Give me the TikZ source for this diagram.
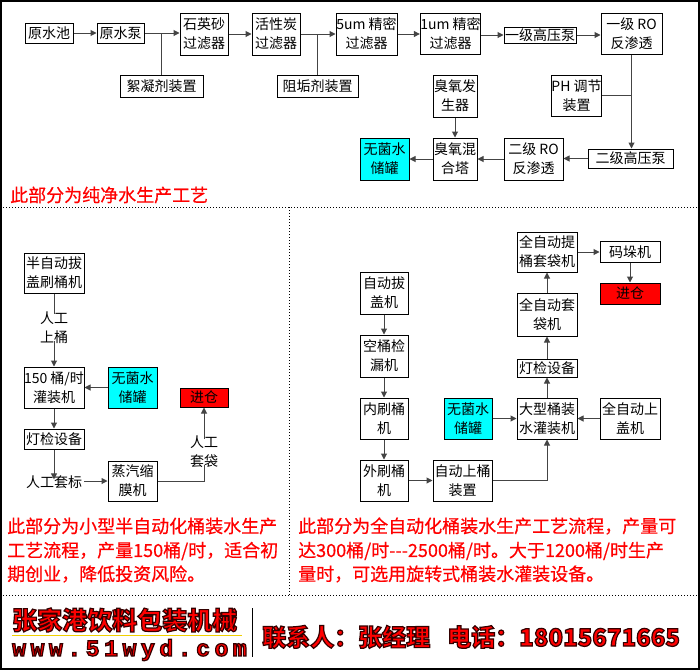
\documentclass[tikz,border=0pt]{standalone}
\usepackage{fontspec}
\setmainfont{Noto Sans CJK SC}
\newfontfamily\notefnt[FakeBold=0.5]{Noto Sans CJK SC}
\newfontfamily\webfnt[LetterSpace=20]{Liberation Mono}
\usetikzlibrary{arrows.meta}
\definecolor{gline}{HTML}{444444}
\definecolor{yline}{HTML}{F0D000}
\definecolor{aqua}{HTML}{00FFFF}
\definecolor{pure}{HTML}{FF0000}
\newcommand{\outlinedtext}[1]{\special{pdf:literal direct 2 Tr 0.2 0 0 RG 1.2 w}#1\special{pdf:literal direct 0 Tr}}
\tikzset{
  bx/.style={draw=black, line width=1pt, inner sep=0pt, align=center, fill=white,
    font=\fontsize{14}{19}\selectfont},
  cybx/.style={bx, fill=aqua},
  rdbx/.style={bx, fill=pure},
  lbl/.style={inner sep=0pt, align=center, font=\fontsize{14}{19}\selectfont},
  arr/.style={draw=gline, line width=1pt, -{Triangle[length=6pt,width=6pt]}},
  ln/.style={draw=gline, line width=1pt},
  note/.style={anchor=west, inner sep=0pt, text=pure, font=\notefnt\fontsize{18}{18}\selectfont},
  sep/.style={draw=black, line width=0.8pt, dash pattern=on 1pt off 2pt},
  foot/.style={anchor=west, inner sep=0pt, text=pure},
}
\begin{document}
\begin{tikzpicture}[x=1pt,y=-1pt]
\useasboundingbox (0,0) rectangle (700,670);
\fill[white] (0,0) rectangle (700,670);

% ---------- top section: pure water ----------
\node[bx, minimum width=48pt, minimum height=20pt] (ysc) at (49,33) {原水池};
\node[bx, minimum width=47pt, minimum height=20pt] (ysb) at (120.5,33) {原水泵};
\node[bx, minimum width=48pt, minimum height=42pt] (syf) at (204,34) {石英砂\\过滤器};
\node[bx, minimum width=48pt, minimum height=42pt] (hxt) at (276,34) {活性炭\\过滤器};
\node[bx, minimum width=61pt, minimum height=42pt] (w5) at (366.5,34) {5um 精密\\过滤器};
\node[bx, minimum width=59pt, minimum height=41pt] (w1) at (450.5,34) {1um 精密\\过滤器};
\node[bx, minimum width=72pt, minimum height=16pt] (gyb1) at (540,35) {一级高压泵};
\node[bx, minimum width=61pt, minimum height=41pt] (ro1) at (631.5,33.5) {一级 RO\\反渗透};
\node[bx, minimum width=83pt, minimum height=22pt] (xnj) at (161.5,86) {絮凝剂装置};
\node[bx, minimum width=81pt, minimum height=22pt] (zgj) at (317.5,86) {阻垢剂装置};
\node[bx, minimum width=44pt, minimum height=42pt] (cyf) at (455,96) {臭氧发\\生器};
\node[bx, minimum width=49pt, minimum height=41pt] (ph) at (576.5,95.5) {PH 调节\\装置};
\node[cybx, minimum width=49pt, minimum height=42pt] (wj1) at (384.5,159) {无菌水\\储罐};
\node[bx, minimum width=44pt, minimum height=42pt] (cyh) at (455,159) {臭氧混\\合塔};
\node[bx, minimum width=59pt, minimum height=42pt] (ro2) at (533.5,159) {二级 RO\\反渗透};
\node[bx, minimum width=85pt, minimum height=19pt] (gyb2) at (630.5,158.5) {二级高压泵};

\draw[arr] (ysc.east) -- (ysb.west);
\draw[arr] (ysb.east) -- (ysb.east -| syf.west);
\draw[ln] (xnj.north) -- (xnj.north |- ysb.east);
\draw[arr] (syf.east) -- (hxt.west);
\draw[arr] (hxt.east) -- (hxt.east -| w5.west);
\draw[ln] (zgj.north) -- (zgj.north |- hxt.east);
\draw[arr] (w5.east) -- (w5.east -| w1.west);
\draw[arr] (w1.east |- gyb1.west) -- (gyb1.west);
\draw[arr] (gyb1.east) -- (gyb1.east -| ro1.west);
\draw[arr] (ro1.south) -- (ro1.south |- gyb2.north);
\draw[ln] (ph.east) -- (ph.east -| ro1.south);
\draw[arr] (gyb2.west) -- (gyb2.west -| ro2.east);
\draw[arr] (ro2.west) -- (ro2.west -| cyh.east);
\draw[arr] (cyh.west) -- (cyh.west -| wj1.east);
\draw[arr] (cyf.south) -- (cyh.north);

\node[note] (n0) at (10,195) {此部分为纯净水生产工艺};

% ---------- separators ----------
\coordinate (sL) at (0,207);
\coordinate (sR) at (700,207);
\coordinate (vT) at (289,207);
\coordinate (vB) at (289,595);
\coordinate (bL) at (0,595);
\coordinate (bR) at (700,595);
\draw[sep] (sL) -- (sR);
\draw[sep] (vT) -- (vB);
\draw[sep] (bL) -- (bR);

% ---------- lower left: semi-automatic ----------
\node[bx, minimum width=60pt, minimum height=40pt] (bzd) at (54,273) {半自动拔\\盖刷桶机};
\node[lbl] (rgst) at (54,328) {人工\\上桶};
\node[bx, minimum width=60pt, minimum height=41pt] (gz) at (54,387.5) {150 桶/时\\灌装机};
\node[cybx, minimum width=49pt, minimum height=41pt] (wj2) at (132.5,387.5) {无菌水\\储罐};
\node[rdbx, minimum width=48pt, minimum height=19pt] (jc1) at (204,397.5) {进仓};
\node[bx, minimum width=60pt, minimum height=20pt] (dj1) at (54,439) {灯检设备};
\node[lbl] (rgtb) at (54,482) {人工套标};
\node[bx, minimum width=49pt, minimum height=40pt] (zq) at (132.5,481) {蒸汽缩\\膜机};
\node[lbl] (rgtd) at (204,452) {人工\\套袋};
\coordinate (zqc) at (204,481);

\draw[ln] (bzd.south) -- ([yshift=-2pt]rgst.north);
\draw[arr] ([yshift=3pt]rgst.south) -- (gz.north);
\draw[arr] (wj2.west) -- (gz.east);
\draw[arr] (gz.south) -- (dj1.north);
\draw[arr] (dj1.south) -- ([yshift=-4pt]rgtb.north);
\draw[arr] ([xshift=2pt]rgtb.east |- zq.west) -- (zq.west);
\draw[ln] (zq.east) -- (zqc) -- ([yshift=3pt]rgtd.south);
\draw[arr] ([yshift=-3pt]rgtd.north) -- (jc1.south);

% ---------- lower right: fully automatic ----------
\node[bx, minimum width=60pt, minimum height=40pt] (ztb) at (547,252) {全自动提\\桶套袋机};
\node[bx, minimum width=60pt, minimum height=21pt] (mdj) at (630,252) {码垛机};
\node[rdbx, minimum width=60pt, minimum height=21pt] (jc2) at (630,293.5) {进仓};
\node[bx, minimum width=48pt, minimum height=42pt] (zbg) at (384,293) {自动拔\\盖机};
\node[bx, minimum width=48pt, minimum height=42pt] (kt) at (384,356) {空桶检\\漏机};
\node[bx, minimum width=48pt, minimum height=41pt] (ns) at (384,418.5) {内刷桶\\机};
\node[bx, minimum width=48pt, minimum height=41pt] (ws) at (384,480.5) {外刷桶\\机};
\node[bx, minimum width=59pt, minimum height=41pt] (zst) at (462.5,480.5) {自动上桶\\装置};
\node[cybx, minimum width=48pt, minimum height=41pt] (wj3) at (468,418.5) {无菌水\\储罐};
\node[bx, minimum width=60pt, minimum height=41pt] (dx) at (547,418.5) {大型桶装\\水灌装机};
\node[bx, minimum width=60pt, minimum height=41pt] (zsg) at (630,418.5) {全自动上\\盖机};
\node[bx, minimum width=60pt, minimum height=18pt] (dj2) at (547,368) {灯检设备};
\node[bx, minimum width=60pt, minimum height=43pt] (ztd) at (547,314.5) {全自动套\\袋机};

\draw[arr] (zbg.south) -- (kt.north);
\draw[arr] (kt.south) -- (ns.north);
\draw[arr] (ns.south) -- (ws.north);
\draw[arr] (ws.east) -- (zst.west);
\draw[arr] (zst.east) -| (dx.south);
\draw[arr] (wj3.east) -- (dx.west);
\draw[arr] (zsg.west) -- (dx.east);
\draw[arr] (dx.north) -- (dj2.south);
\draw[arr] (dj2.north) -- (ztd.south);
\draw[arr] (ztd.north) -- (ztb.south);
\draw[arr] (ztb.east) -- (mdj.west);
\draw[arr] (mdj.south) -- (jc2.north);

% ---------- notes ----------
\node[note] (n1) at (7,526) {此部分为小型半自动化桶装水生产};
\node[note] (n2) at (7,551) {工艺流程，产量150桶/时，适合初};
\node[note] (n3) at (7,574) {期创业，降低投资风险。};
\node[note] (n4) at (298,526) {此部分为全自动化桶装水生产工艺流程，产量可};
\node[note] (n5) at (298,551) {达300桶/时-{}-{}-2500桶/时。大于1200桶/时生产};
\node[note] (n6) at (298,574) {量时，可选用旋转式桶装水灌装设备。};

% ---------- footer ----------
\node[foot, font=\bfseries\fontsize{25}{25}\selectfont] (f1) at (12,620) {\outlinedtext{张家港饮料包装机械}};
\coordinate (yl1) at (12,635);
\coordinate (yl2) at (242,635);
\draw[yline, line width=1pt] (yl1) -- (yl2);
\node[foot, font=\webfnt\bfseries\fontsize{23}{23}\selectfont] (f2) at (12,650) {\outlinedtext{www.51wyd.com}};
\coordinate (vl1) at (252,608);
\coordinate (vl2) at (252,657);
\draw[black, line width=0.8pt] (vl1) -- (vl2);
\node[foot, font=\bfseries\fontsize{24}{24}\selectfont] (f3) at (262,637) {\outlinedtext{联系人：张经理\hspace{17pt}电话：18015671665}};

% ---------- outer frame ----------
\coordinate (fa) at (1,1);
\coordinate (fb) at (699,669);
\draw[black, line width=2pt] (fa) rectangle (fb);
\end{tikzpicture}
\end{document}
